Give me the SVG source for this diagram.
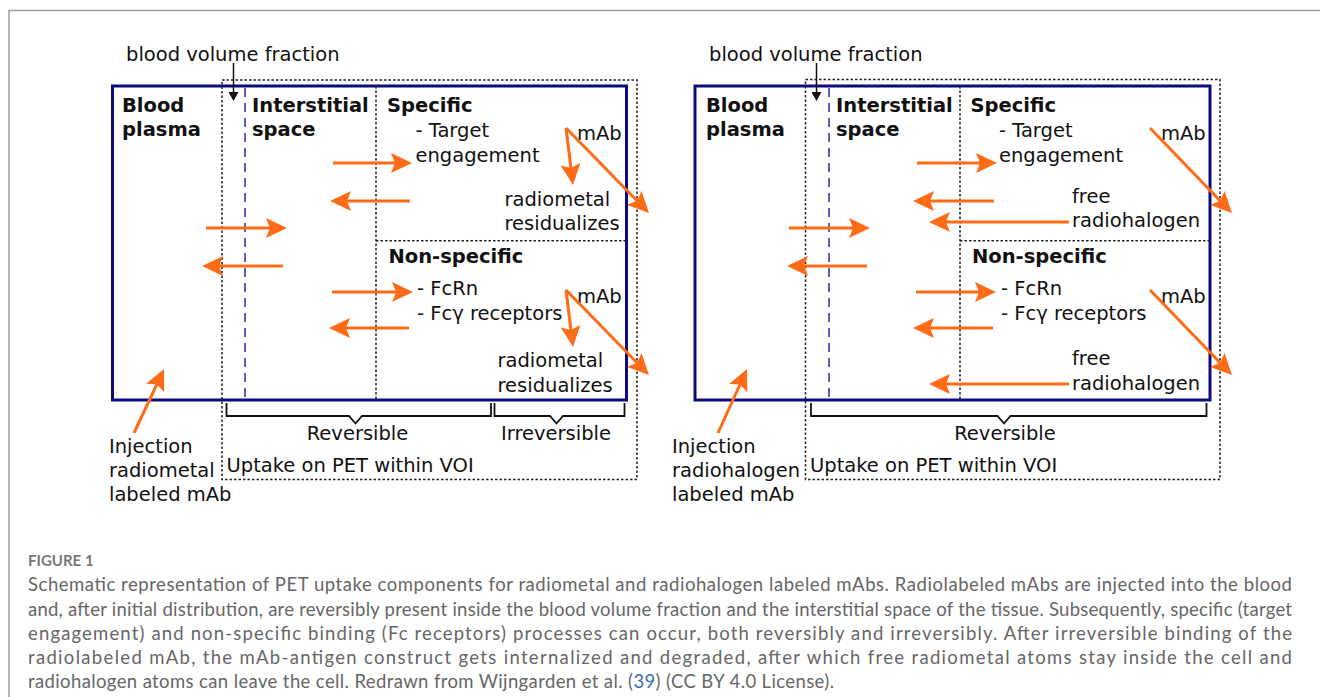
<svg xmlns="http://www.w3.org/2000/svg" width="1320" height="697" viewBox="0 0 1320 697">
<style>
.t{font-family:"DejaVu Sans",Verdana,sans-serif;font-size:19.5px;fill:#111}
.b{font-weight:bold}
.m{text-anchor:middle}
.o{stroke:#ff6b17;stroke-width:3;fill:none;marker-end:url(#ah)}
.k{stroke:#111;stroke-width:1.5;fill:none;marker-end:url(#bh)}
.nv{fill:none;stroke:#0c0c7c;stroke-width:3}
.dt{fill:none;stroke:#222;stroke-width:1.5;stroke-dasharray:2.5 2}
.bd{stroke:#2b2bb0;stroke-width:1.5;stroke-dasharray:9 6;fill:none}
.br{fill:none;stroke:#111;stroke-width:1.8}
.cap{font-family:Lato,"Open Sans",sans-serif;font-size:18.5px;fill:#666}
.fig{font-family:Lato,"Open Sans",sans-serif;font-size:15px;fill:#777;font-weight:bold}
</style>
<defs>
<marker id="ah" markerUnits="userSpaceOnUse" markerWidth="21" markerHeight="20" viewBox="0 0 21 20" refX="15" refY="10" orient="auto"><path d="M0,0 L21,10 L0,20 L4,10 z" fill="#ff6b17"/></marker>
<marker id="bh" markerUnits="userSpaceOnUse" markerWidth="9" markerHeight="10" viewBox="0 0 9 10" refX="7" refY="5" orient="auto"><path d="M0,0 L9,5 L0,10 z" fill="#111"/></marker>
</defs>
<rect width="1320" height="697" fill="#fff"/>
<g id="frame"><path d="M9,697 V10.5 H1320" fill="none" stroke="#999" stroke-width="1.5"/></g>

<!-- LEFT PANEL -->
<g id="L-compartments">
<rect class="nv" x="112.5" y="86" width="514" height="314"/>
<rect class="dt" x="222" y="80" width="415" height="399.5"/>
<line class="dt" x1="376" y1="86" x2="376" y2="400"/>
<line class="dt" x1="376" y1="240.7" x2="626.5" y2="240.7"/>
<line class="bd" x1="245" y1="88" x2="245" y2="398"/>
</g>
<g id="L-bvf"><text class="t" x="126" y="61">blood volume fraction</text></g>
<g id="L-plasma"><text class="t b" x="122" y="112">Blood</text><text class="t b" x="122" y="136">plasma</text></g>
<g id="L-interstitial"><text class="t b" x="252" y="112">Interstitial</text><text class="t b" x="252" y="136">space</text></g>
<g id="L-specific"><text class="t b" x="387" y="112">Specific</text><text class="t" x="415.5" y="137">- Target</text><text class="t" x="415.5" y="162">engagement</text><text class="t" x="577" y="140">mAb</text><text class="t" x="504.5" y="206">radiometal</text><text class="t" x="504.5" y="230">residualizes</text></g>
<g id="L-nonspecific"><text class="t b" x="388.5" y="262.5">Non-specific</text><text class="t" x="417" y="295">- FcRn</text><text class="t" x="417" y="320">- Fcγ receptors</text><text class="t" x="577" y="302.5">mAb</text><text class="t" x="497.5" y="367">radiometal</text><text class="t" x="497.5" y="391.5">residualizes</text></g>
<g id="L-injection"><text class="t" x="109" y="452.5">Injection</text><text class="t" x="109" y="477">radiometal</text><text class="t" x="109" y="501">labeled mAb</text></g>
<g id="L-reversible"><path class="br" d="M226.5,403 V416 H349 L355.5,423.5 L362,416 H491 V403"/><text class="t m" x="357.5" y="440">Reversible</text></g>
<g id="L-irreversible"><path class="br" d="M494.5,403 V416 H550 L556.5,423.5 L563,416 H624.5 V403"/><text class="t m" x="556" y="440">Irreversible</text></g>
<g id="L-uptake"><text class="t" x="226.5" y="471.5">Uptake on PET within VOI</text></g>

<!-- RIGHT PANEL -->
<g id="R-compartments">
<rect class="nv" x="695" y="86" width="515" height="314"/>
<rect class="dt" x="805.5" y="79.5" width="414.5" height="400"/>
<line class="dt" x1="960" y1="86" x2="960" y2="400"/>
<line class="dt" x1="960" y1="240.7" x2="1210" y2="240.7"/>
<line class="bd" x1="829" y1="88" x2="829" y2="398"/>
</g>
<g id="R-bvf"><text class="t" x="709" y="61">blood volume fraction</text></g>
<g id="R-plasma"><text class="t b" x="706" y="112">Blood</text><text class="t b" x="706" y="136">plasma</text></g>
<g id="R-interstitial"><text class="t b" x="836" y="112">Interstitial</text><text class="t b" x="836" y="136">space</text></g>
<g id="R-specific"><text class="t b" x="970.5" y="112">Specific</text><text class="t" x="999" y="137">- Target</text><text class="t" x="999" y="162">engagement</text><text class="t" x="1161" y="140">mAb</text><text class="t" x="1072" y="203">free</text><text class="t" x="1072" y="227">radiohalogen</text></g>
<g id="R-nonspecific"><text class="t b" x="972" y="262.5">Non-specific</text><text class="t" x="1001" y="295">- FcRn</text><text class="t" x="1001" y="320">- Fcγ receptors</text><text class="t" x="1161" y="302.5">mAb</text><text class="t" x="1072" y="365">free</text><text class="t" x="1072" y="389.5">radiohalogen</text></g>
<g id="R-injection"><text class="t" x="672" y="452.5">Injection</text><text class="t" x="672" y="477">radiohalogen</text><text class="t" x="672" y="501">labeled mAb</text></g>
<g id="R-reversible"><path class="br" d="M811,403 V416 H997.5 L1004,423.5 L1010.5,416 H1206.5 V403"/><text class="t m" x="1005" y="440">Reversible</text></g>
<g id="R-uptake"><text class="t" x="810" y="471.5">Uptake on PET within VOI</text></g>

<g id="connectors">
<line class="k" x1="233.5" y1="63" x2="233.5" y2="99"/>
<line class="k" x1="816.5" y1="63" x2="816.5" y2="99"/>
<line class="o" x1="333" y1="163" x2="406" y2="163"/>
<line class="o" x1="410" y1="201" x2="336" y2="201"/>
<line class="o" x1="206" y1="228" x2="281" y2="228"/>
<line class="o" x1="283" y1="266" x2="208" y2="266"/>
<line class="o" x1="332" y1="292" x2="407" y2="292"/>
<line class="o" x1="409" y1="328" x2="335" y2="328"/>
<line class="o" x1="566" y1="128" x2="572.3" y2="179"/>
<line class="o" x1="566" y1="128" x2="644.8" y2="208.7"/>
<line class="o" x1="566" y1="290" x2="572.3" y2="341"/>
<line class="o" x1="566" y1="290" x2="644.8" y2="370.7"/>
<line class="o" x1="134" y1="433" x2="161.5" y2="374.4"/>
<line class="o" x1="917" y1="163" x2="991" y2="163"/>
<line class="o" x1="994" y1="201" x2="919" y2="201"/>
<line class="o" x1="1069" y1="222" x2="935" y2="222"/>
<line class="o" x1="789" y1="228" x2="864" y2="228"/>
<line class="o" x1="867" y1="266" x2="793" y2="266"/>
<line class="o" x1="916" y1="292" x2="990" y2="292"/>
<line class="o" x1="993" y1="328" x2="919" y2="328"/>
<line class="o" x1="1069" y1="384" x2="935" y2="384"/>
<line class="o" x1="1150" y1="128" x2="1227.8" y2="208.7"/>
<line class="o" x1="1150" y1="290" x2="1227.8" y2="370.7"/>
<line class="o" x1="718" y1="433" x2="744.5" y2="374.5"/>
</g>

<g id="caption">
<text class="fig" x="28" y="566">FIGURE 1</text>
<text class="cap" x="28" y="591" textLength="1264" lengthAdjust="spacing">Schematic representation of PET uptake components for radiometal and radiohalogen labeled mAbs. Radiolabeled mAbs are injected into the blood</text>
<text class="cap" x="28" y="615.5" textLength="1264" lengthAdjust="spacing">and, after initial distribution, are reversibly present inside the blood volume fraction and the interstitial space of the tissue. Subsequently, specific (target</text>
<text class="cap" x="28" y="640" textLength="1264" lengthAdjust="spacing">engagement) and non-specific binding (Fc receptors) processes can occur, both reversibly and irreversibly. After irreversible binding of the</text>
<text class="cap" x="28" y="664" textLength="1264" lengthAdjust="spacing">radiolabeled mAb, the mAb-antigen construct gets internalized and degraded, after which free radiometal atoms stay inside the cell and</text>
<text class="cap" x="28" y="688" textLength="806" lengthAdjust="spacing">radiohalogen atoms can leave the cell. Redrawn from Wijngarden et al. (<tspan fill="#3a6fc0">39</tspan>) (CC BY 4.0 License).</text>
</g>
</svg>
